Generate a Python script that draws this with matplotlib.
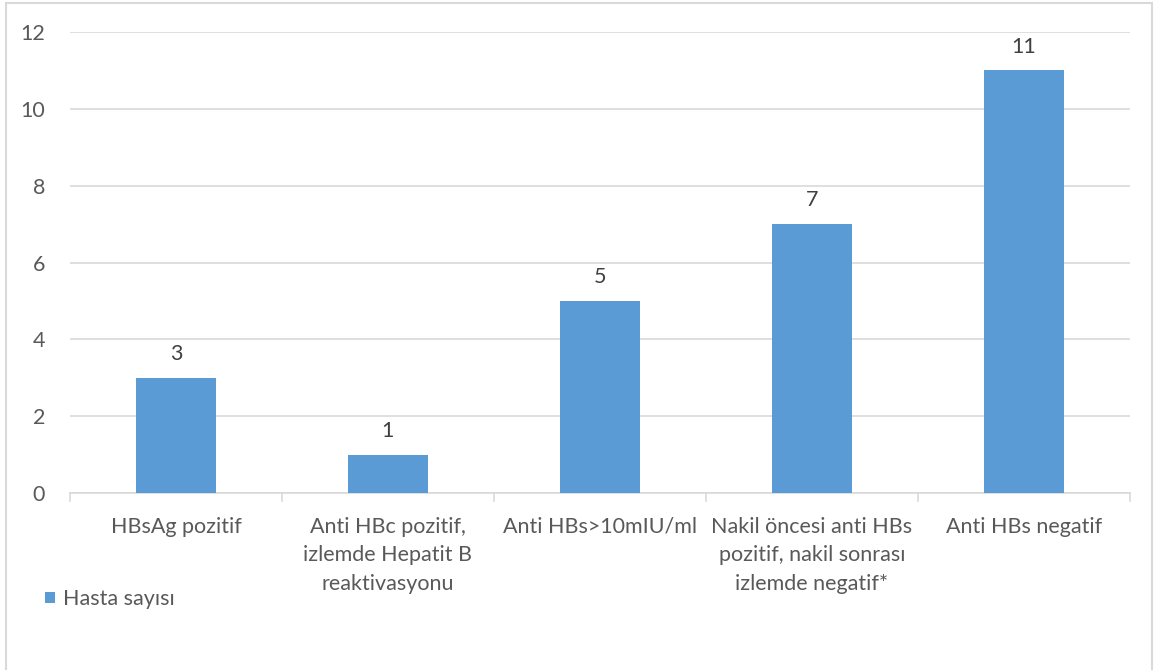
import matplotlib.pyplot as plt
from matplotlib.patches import Rectangle

# kategoriler ve hasta sayilari
kategoriler = [
    "HBsAg pozitif",
    "Anti HBc pozitif,\nizlemde Hepatit B\nreaktivasyonu",
    "Anti HBs>10mIU/ml",
    "Nakil öncesi anti HBs\npozitif, nakil sonrası\nizlemde negatif*",
    "Anti HBs negatif",
]
hasta_sayisi = [3, 1, 5, 7, 11]
y_ticks = [0, 2, 4, 6, 8, 10, 12]

mavi = '#5b9bd5'
gri_yazi = '#595959'
gri_cizgi = '#d9d9d9'
fs = 15.5

plt.rcParams['font.family'] = ['Lato', 'DejaVu Sans']

fig = plt.figure(figsize=(11.58, 6.70), dpi=100)
ax = fig.add_axes([0.0604, 0.2642, 0.9154, 0.688])

x = list(range(len(kategoriler)))
bars = ax.bar(x, hasta_sayisi, width=0.38, color=mavi, zorder=3, label='Hasta sayısı')

for b, v in zip(bars, hasta_sayisi):
    ax.annotate(str(v), (b.get_x() + b.get_width() / 2, v), xytext=(0, 10),
                textcoords='offset points', ha='center', va='bottom',
                fontsize=fs, color='#404040')

ax.set_xlim(-0.5, len(kategoriler) - 0.5)
ax.set_ylim(0, 12)
ax.set_yticks(y_ticks)
ax.yaxis.grid(True, color=gri_cizgi, linewidth=1.2, zorder=0)
ax.tick_params(axis='y', length=0, labelsize=fs, labelcolor=gri_yazi, pad=18)

ax.set_xticks(x)
ax.set_xticklabels(kategoriler, fontsize=fs, color=gri_yazi, linespacing=1.55, va='top')
ax.tick_params(axis='x', length=0, pad=17)
# kategori aralarindaki kucuk cizgiler
for s in [i - 0.5 for i in range(len(kategoriler) + 1)]:
    ax.plot([s, s], [0, -0.2], color=gri_cizgi, linewidth=1.2, clip_on=False)

for side in ['top', 'right', 'left']:
    ax.spines[side].set_visible(False)
ax.spines['bottom'].set_color(gri_cizgi)
ax.spines['bottom'].set_linewidth(1.2)

# lejant
leg = fig.legend(loc='lower left', bbox_to_anchor=(0.022, 0.062), frameon=False,
                 fontsize=fs, handlelength=0.45, handleheight=0.45, handletextpad=0.4)
for t in leg.get_texts():
    t.set_color(gri_yazi)

# dis cerceve
fig.patches.append(Rectangle((0.005, -0.01), 0.99, 1.005, transform=fig.transFigure,
                             fill=False, edgecolor=gri_cizgi, linewidth=1.5))

fig.savefig('out.png', dpi=100)
